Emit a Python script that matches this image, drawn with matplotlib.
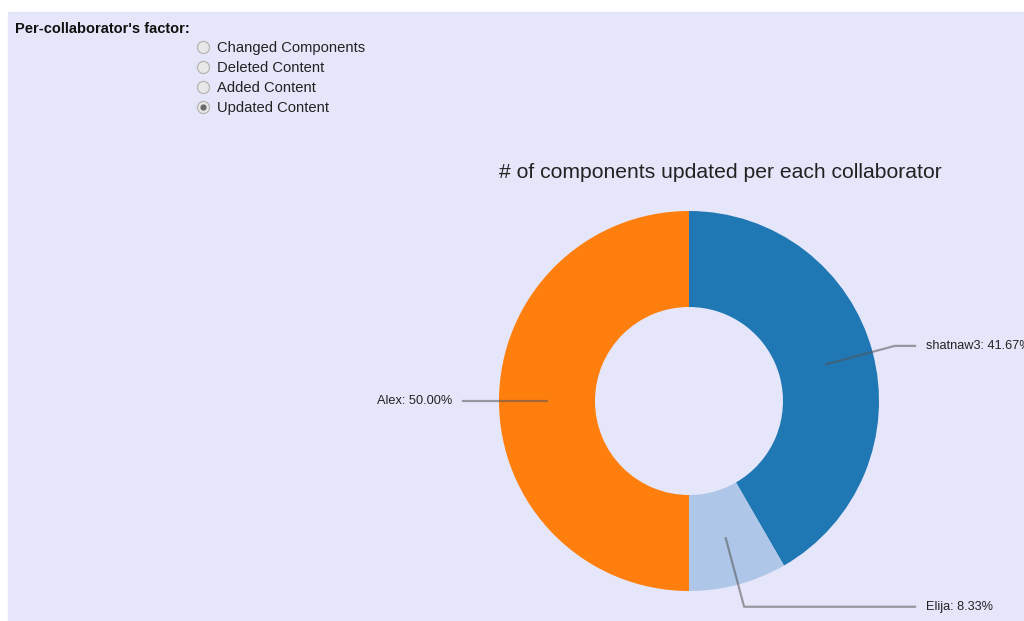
import matplotlib.pyplot as plt
import numpy as np
from matplotlib.patches import Rectangle

names = ["shatnaw3", "Elija", "Alex"]
shares = [41.67, 8.33, 50.00]
colors = ["#1f77b4", "#aec7e8", "#ff7f0e"]
options = ["Changed Components", "Deleted Content", "Added Content", "Updated Content"]
selected = "Updated Content"
title = "# of components updated per each collaborator"

W, H = 1024, 621
fig = plt.figure(figsize=(W / 100, H / 100), dpi=100)
ax = fig.add_axes([0, 0, 1, 1])
ax.set_xlim(0, W)
ax.set_ylim(0, H)
ax.set_aspect("equal")
ax.axis("off")

# lavender page background
ax.add_patch(Rectangle((8, 0), W - 8, H - 12, color="#e6e6fa", zorder=0))

# radio group
ax.text(15, H - 29, "Per-collaborator's factor:", fontsize=10.5, fontweight="bold",
        family="Liberation Sans", va="center", ha="left", color="#111111")
for i, opt in enumerate(options):
    y = H - (48 + 20 * i)
    ax.scatter([203], [y + 1], s=75, facecolor="#e8e8e8", edgecolor="#b5b5b5", lw=0.9, zorder=3)
    if opt == selected:
        ax.scatter([203], [y + 1], s=12, color="#6a6a6a", zorder=4)
    ax.text(217, y, opt, fontsize=10.6, family="Liberation Sans", va="center", ha="left",
            color="#222222")

# donut
cx, cy = 689, H - 401
R, r_in = 190, 94
wedges, _ = ax.pie(shares, colors=colors, startangle=90, counterclock=False,
                   center=(cx, cy), radius=R, frame=True,
                   wedgeprops=dict(width=R - r_in, linewidth=0))
ax.set_xlim(0, W)
ax.set_ylim(0, H)
ax.axis("off")

ax.text(720, H - 172, title, fontsize=15.2, family="Liberation Sans", ha="center",
        va="center", color="#222222")

r_mid = (R + r_in) / 2
r_arc = 213
for w, name, val in zip(wedges, names, shares):
    ang = np.deg2rad((w.theta1 + w.theta2) / 2)
    x0, y0 = cx + r_mid * np.cos(ang), cy + r_mid * np.sin(ang)
    x1, y1 = cx + r_arc * np.cos(ang), cy + r_arc * np.sin(ang)
    side = 1 if np.cos(ang) >= 0 else -1
    x2 = cx + side * 226
    ax.plot([x0, x1, x2], [y0, y1, y1], color="#555555", alpha=0.55, lw=1.6, zorder=5)
    ax.text(cx + side * 237, y1, f"{name}: {val:.2f}%", fontsize=9.2,
            family="Liberation Sans", ha="left" if side > 0 else "right",
            va="center", color="#222222", clip_on=False)

fig.savefig("out.png", dpi=100)
